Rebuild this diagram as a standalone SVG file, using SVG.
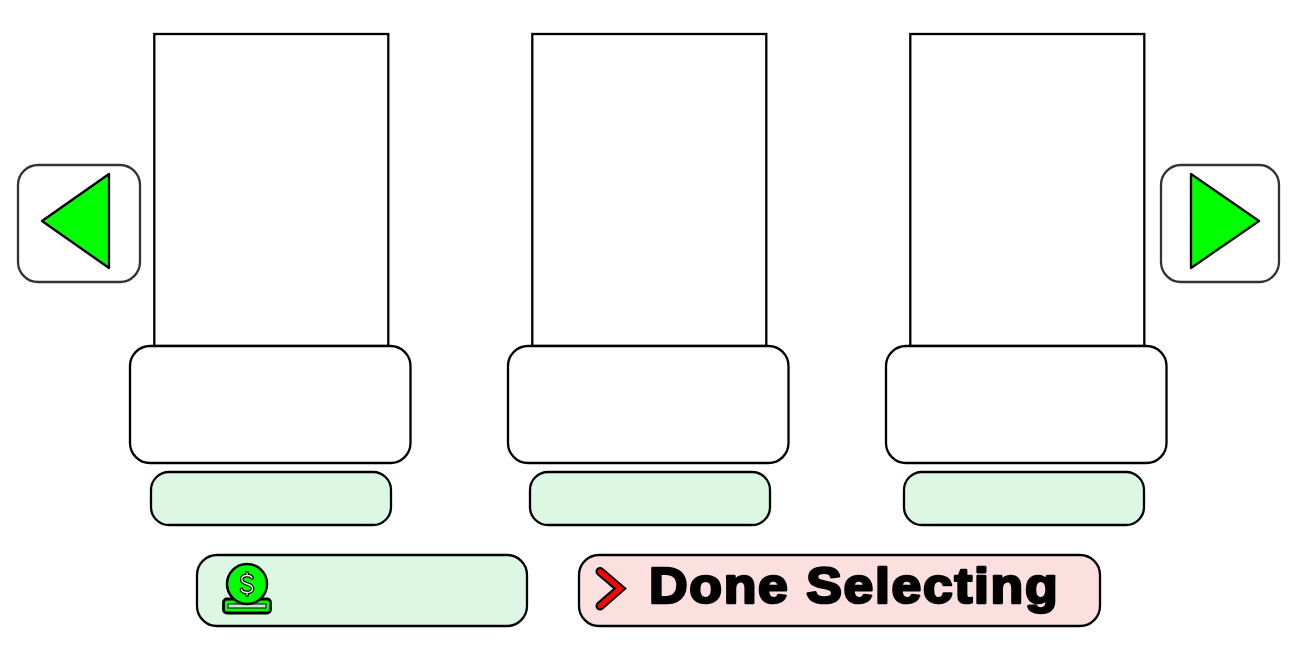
<svg xmlns="http://www.w3.org/2000/svg" width="1296" height="648" viewBox="0 0 1296 648">
<style>
.s{fill:#fff;stroke:#000;stroke-width:2.3}
.g{fill:#dcf8e5;stroke:#000;stroke-width:2.3}
.nav{fill:#fff;stroke:#333;stroke-width:2.3}
.tri{fill:#00ff00;stroke:#000;stroke-width:2.3;stroke-linejoin:round}
.t{font-family:"Liberation Sans",Arial,sans-serif;font-weight:bold;font-size:50px;letter-spacing:1.6px;fill:#000;stroke:#000;stroke-width:2.6;stroke-linejoin:round}
</style>
<rect width="1296" height="648" fill="#fff"/>
<g id="nav-left"><rect class="nav" x="18" y="165" width="122" height="117" rx="20"/><path class="tri" d="M109 174V268L42 221Z"/></g>
<g id="nav-right"><rect class="nav" x="1161" y="165" width="118" height="117" rx="20"/><path class="tri" d="M1191 174V268L1259 221Z"/></g>
<g id="card-1"><rect class="s" x="154.300" y="34" width="234" height="312"/><rect class="s" x="130" y="346" width="280.500" height="117" rx="20"/><rect class="g" x="151" y="472" width="240" height="53" rx="18"/></g>
<g id="card-2"><rect class="s" x="532.300" y="34" width="234" height="312"/><rect class="s" x="508" y="346" width="280.500" height="117" rx="20"/><rect class="g" x="530" y="472" width="240" height="53" rx="18"/></g>
<g id="card-3"><rect class="s" x="910.300" y="34" width="234" height="312"/><rect class="s" x="886" y="346" width="280.500" height="117" rx="20"/><rect class="g" x="904" y="472" width="240" height="53" rx="18"/></g>
<g id="money-button"><rect class="g" x="197" y="555" width="330" height="71" rx="20"/>
<rect x="223.500" y="599" width="47" height="14" rx="3.500" fill="#00ff00" stroke="#000" stroke-width="2.800"/>
<rect x="228" y="604" width="38" height="4" fill="#c8e8d0" stroke="#222" stroke-width="1.200"/>
<circle cx="247" cy="584" r="20" fill="#00ff00" stroke="#000" stroke-width="2.500"/>
<path d="M252 578C251.500 576 249.500 575.500 247 575.500C243.800 575.500 241.800 577 241.800 579.500C241.800 585.500 252.500 582.500 252.500 588.500C252.500 591 250 592.500 247 592.500C244 592.500 242 591.500 241.500 589.500M247 573V575.500M247 592.500V595" fill="none" stroke="#000" stroke-width="3.800" stroke-linecap="round"/>
<path d="M252 578C251.500 576 249.500 575.500 247 575.500C243.800 575.500 241.800 577 241.800 579.500C241.800 585.500 252.500 582.500 252.500 588.500C252.500 591 250 592.500 247 592.500C244 592.500 242 591.500 241.500 589.500M247 573V575.500M247 592.500V595" fill="none" stroke="#e8ffe8" stroke-width="1.300" stroke-linecap="round"/>
</g>
<g id="done-button"><rect x="579" y="555" width="521" height="71" rx="20" fill="#fce0e0" stroke="#000" stroke-width="2.300"/>
<path d="M600 571.500L620 588.500L600 606" fill="none" stroke="#000" stroke-width="9" stroke-linecap="round" stroke-linejoin="miter"/>
<path d="M600 571.500L620 588.500L600 606" fill="none" stroke="#ff0000" stroke-width="5" stroke-linecap="round" stroke-linejoin="miter"/>
<text class="t" transform="translate(649 603) scale(1.07 1)" x="0" y="0">Done Selecting</text></g>
<g id="connectors"></g>
</svg>
